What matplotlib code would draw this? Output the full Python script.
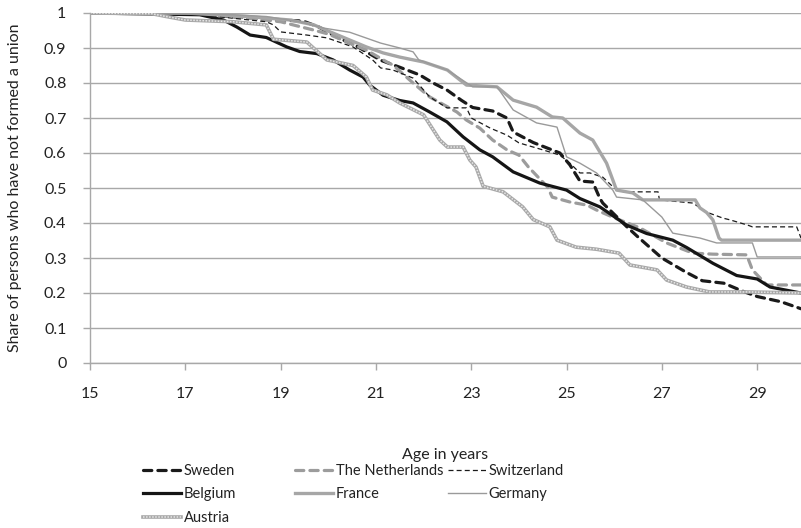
import matplotlib
matplotlib.use("Agg")
import matplotlib.pyplot as plt

plt.rcParams['font.family'] = ['Lato', 'DejaVu Sans']

# Survival curves: share of persons who have not formed a union, by age
sweden_age = [15, 17, 18.4, 19.0, 19.47, 19.8, 20.2, 20.6, 21.1, 21.5, 21.92, 22.2, 22.49, 22.8,
              23.03, 23.45, 23.75, 23.88, 24.3, 24.86, 25.07, 25.28, 25.55, 25.7, 25.76, 26.26,
              26.5, 27.0, 27.5, 27.85, 28.3, 28.7, 29.0, 29.5, 29.92]
sweden_val = [1.0, 1.0, 0.985, 0.98, 0.977, 0.96, 0.93, 0.905, 0.865, 0.845, 0.823, 0.8, 0.78, 0.75,
              0.73, 0.72, 0.70, 0.66, 0.63, 0.60, 0.566, 0.52, 0.517, 0.47, 0.457, 0.39,
              0.36, 0.30, 0.26, 0.235, 0.228, 0.205, 0.19, 0.175, 0.155]

netherlands_age = [15, 17, 18, 19.0, 19.7, 20.0, 20.8, 21.23, 21.36, 21.78, 22.13, 22.7, 22.9, 23.18,
                   23.45, 23.75, 24.0, 24.2, 24.6, 24.7, 25.07, 25.43, 25.63, 26.0, 26.54, 27.1,
                   27.65, 28.07, 28.78, 28.9, 29.2, 29.92]
netherlands_val = [1.0, 1.0, 0.99, 0.975, 0.951, 0.94, 0.894, 0.86, 0.851, 0.8, 0.76, 0.717, 0.694, 0.671,
                   0.637, 0.609, 0.594, 0.56, 0.503, 0.474, 0.46, 0.451, 0.437, 0.415, 0.386, 0.343,
                   0.314, 0.311, 0.309, 0.266, 0.223, 0.223]

switzerland_age = [15, 17, 18, 18.7, 18.85, 19.0, 19.55, 19.97, 20.52, 20.93, 21.1, 21.36, 21.78,
                   22.13, 22.49, 22.9, 23.0, 23.4, 23.75, 24.0, 24.5, 24.86, 25.07, 25.28, 25.49,
                   25.76, 26.0, 26.2, 26.92, 26.95, 27.65, 27.94, 28.28, 28.43, 28.8, 28.9, 29.83, 29.92]
switzerland_val = [1.0, 1.0, 0.985, 0.975, 0.966, 0.946, 0.937, 0.929, 0.903, 0.866, 0.843, 0.837, 0.814,
                   0.76, 0.729, 0.729, 0.70, 0.671, 0.651, 0.629, 0.609, 0.594, 0.571, 0.543, 0.543,
                   0.531, 0.50, 0.489, 0.489, 0.466, 0.457, 0.431, 0.414, 0.409, 0.394, 0.389, 0.389, 0.357]

belgium_age = [15, 17.3, 17.8, 18.08, 18.36, 18.7, 19.13, 19.4, 19.76, 20.1, 20.45, 20.73, 20.87,
               21.15, 21.5, 21.78, 22.13, 22.49, 22.83, 23.18, 23.45, 23.88, 24.44, 25.0, 25.28,
               25.7, 26.26, 26.68, 27.23, 27.52, 28.07, 28.57, 29.0, 29.27, 29.92]
belgium_val = [1.0, 0.995, 0.98, 0.96, 0.937, 0.93, 0.903, 0.89, 0.884, 0.866, 0.837, 0.817, 0.794,
               0.765, 0.75, 0.743, 0.717, 0.689, 0.646, 0.609, 0.589, 0.546, 0.514, 0.494, 0.47,
               0.446, 0.394, 0.37, 0.351, 0.33, 0.285, 0.25, 0.24, 0.217, 0.2]

france_age = [15, 17, 18.3, 19.2, 19.7, 19.97, 20.8, 21.15, 21.5, 22.0, 22.5, 22.9, 23.54, 23.88,
              24.37, 24.7, 24.92, 25.28, 25.55, 25.84, 26.05, 26.39, 26.6, 27.7, 27.8, 27.94,
              28.07, 28.2, 28.25, 29.92]
france_val = [1.0, 1.0, 0.99, 0.98, 0.966, 0.95, 0.903, 0.886, 0.874, 0.86, 0.837, 0.794, 0.789, 0.751,
              0.731, 0.703, 0.70, 0.657, 0.637, 0.571, 0.494, 0.486, 0.466, 0.466, 0.443, 0.43,
              0.409, 0.357, 0.351, 0.351]

germany_age = [15, 18, 18.7, 19.4, 19.9, 20.45, 21.1, 21.5, 21.78, 21.9, 22.5, 23.03, 23.54, 23.88,
               24.37, 24.8, 25.0, 25.28, 25.63, 25.97, 26.05, 26.6, 27.0, 27.23, 27.8, 28.15,
               28.9, 29.0, 29.92]
germany_val = [1.0, 0.995, 0.99, 0.975, 0.957, 0.945, 0.914, 0.90, 0.889, 0.866, 0.837, 0.789, 0.789, 0.723,
               0.686, 0.674, 0.589, 0.571, 0.543, 0.494, 0.474, 0.466, 0.417, 0.371, 0.357, 0.343,
               0.343, 0.303, 0.303]

austria_age = [15, 16.3, 16.6, 17.0, 18.0, 18.7, 18.85, 19.55, 19.97, 20.52, 20.8, 20.93, 21.23, 21.5,
               22.0, 22.34, 22.5, 22.83, 22.97, 23.1, 23.25, 23.67, 24.08, 24.3, 24.65, 24.8,
               25.2, 25.63, 26.1, 26.33, 26.9, 27.1, 27.52, 28.0, 28.85, 29.92]
austria_val = [1.0, 0.998, 0.99, 0.98, 0.975, 0.966, 0.925, 0.917, 0.866, 0.85, 0.817, 0.78, 0.766, 0.743,
               0.709, 0.637, 0.617, 0.617, 0.58, 0.56, 0.505, 0.489, 0.446, 0.41, 0.389, 0.351,
               0.331, 0.325, 0.314, 0.28, 0.266, 0.237, 0.217, 0.203, 0.203, 0.2]

x_ticks = [15, 17, 19, 21, 23, 25, 27, 29]
y_ticks = [0, 0.1, 0.2, 0.3, 0.4, 0.5, 0.6, 0.7, 0.8, 0.9, 1]
y_tick_labels = ['0', '0.1', '0.2', '0.3', '0.4', '0.5', '0.6', '0.7', '0.8', '0.9', '1']

fig = plt.figure(figsize=(8.01, 5.28), dpi=100)
ax = fig.add_axes([90 / 801, 1 - 363 / 528, 711 / 801, 350 / 528])

grid_col = '#a8a8a8'
text_col = '#222222'
ax.set_xlim(15, 29.92)
ax.set_ylim(0, 1)
ax.set_yticks(y_ticks)
ax.set_yticklabels(y_tick_labels)
ax.set_xticks(x_ticks)
ax.yaxis.grid(True, color=grid_col, linewidth=1.0)
ax.set_axisbelow(True)
for side in ('top', 'right'):
    ax.spines[side].set_visible(False)
for side in ('left', 'bottom'):
    ax.spines[side].set_color(grid_col)
    ax.spines[side].set_linewidth(1.0)
ax.tick_params(axis='both', colors=grid_col, length=5, width=1.0, labelcolor=text_col, labelsize=11.5)
ax.tick_params(axis='x', pad=12)
ax.tick_params(axis='y', pad=12)

lines = {}
lines['Sweden'] = ax.plot(sweden_age, sweden_val, color='#1a1a1a', lw=2.3,
                          linestyle=(0, (2.6, 1.9)), dash_capstyle='round')[0]
lines['The Netherlands'] = ax.plot(netherlands_age, netherlands_val, color='#9c9c9c', lw=2.3,
                                   linestyle=(0, (2.6, 1.9)), dash_capstyle='round')[0]
lines['Switzerland'] = ax.plot(switzerland_age, switzerland_val, color='#1a1a1a', lw=0.9,
                               linestyle=(0, (4, 2.5)))[0]
lines['Belgium'] = ax.plot(belgium_age, belgium_val, color='#151515', lw=2.3)[0]
lines['France'] = ax.plot(france_age, france_val, color='#a6a6a6', lw=2.4)[0]
lines['Germany'] = ax.plot(germany_age, germany_val, color='#9a9a9a', lw=1.0)[0]
a_outer = ax.plot(austria_age, austria_val, color='#a8a8a8', lw=2.6)[0]
a_inner = ax.plot(austria_age, austria_val, color='#e6e6e6', lw=1.1, linestyle=(0, (1, 1)))[0]
lines['Austria'] = (a_outer, a_inner)

ax.set_xlabel('Age in years', fontsize=11.5, color=text_col, labelpad=34)
ax.set_ylabel('Share of persons who have not formed a union', fontsize=11.5, color=text_col,
              labelpad=16)

columns = [['Sweden', 'Belgium', 'Austria'], ['The Netherlands', 'France'], ['Switzerland', 'Germany']]
col_x = [143 / 801, 295 / 801, 448 / 801]
for names, cx in zip(columns, col_x):
    fig.legend([lines[n] for n in names], names, loc='upper left',
               bbox_to_anchor=(cx, 1 - 464 / 528), frameon=False, fontsize=10.5,
               handlelength=2.6, handletextpad=0.2, labelspacing=0.65,
               borderpad=0, borderaxespad=0, labelcolor=text_col)

fig.savefig('out.png', dpi=100)
